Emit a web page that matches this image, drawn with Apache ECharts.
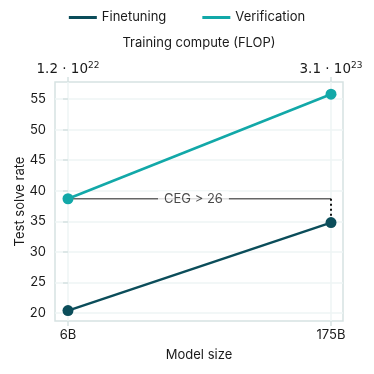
<!DOCTYPE html>
<html>
<head>
  <meta charset="UTF-8">
  <title></title>
  <script src="https://cdn.jsdelivr.net/npm/echarts@6/dist/echarts.min.js"></script>
  <style>
    html, body { margin: 0; padding: 0; background: #fff; }
    #c1 { width: 374px; height: 374px; }
  </style>
</head>
<body>
<div id="c1"></div>
<script>
  // data
  var modelSizes = ['6B', '175B'];
  var computeBase = ['1.2', '3.1'];
  var computeExp = ['22', '23'];
  var finetuning = [20.4, 34.8];
  var verification = [38.7, 55.8];
  var yTicks = [20, 25, 30, 35, 40, 45, 50, 55];
  var cegLabel = 'CEG > 26';

  var fineColor = '#0b4d5a';
  var verColor = '#12a8a8';
  var textColor = '#1a1a1a';

  var xIdx = [0, 1];
  var chartDom = document.getElementById('c1');
  var myChart = echarts.init(chartDom);
  var option;

  var xRange = { min: -0.0494, max: 1.0456 };

  option = {
    animation: false,
    textStyle: { fontFamily: 'Inter', color: textColor },
    legend: {
      top: 6,
      left: 'center',
      itemWidth: 28,
      itemHeight: 3,
      itemGap: 36,
      icon: 'rect',
      textStyle: { fontSize: 13, color: textColor, fontFamily: 'Inter' },
      data: ['Finetuning', 'Verification']
    },
    grid: {
      left: 55,
      right: 31,
      top: 82,
      bottom: 53,
      show: true,
      borderColor: '#d6e2e2',
      borderWidth: 1.5
    },
    xAxis: [
      {
        type: 'value',
        position: 'bottom',
        min: xRange.min,
        max: xRange.max,
        name: 'Model size',
        nameLocation: 'middle',
        nameGap: 28,
        nameTextStyle: { fontSize: 13, color: textColor },
        axisLine: { show: false },
        splitLine: { show: false },
        axisTick: { show: true, customValues: xIdx, length: 5, lineStyle: { color: '#d6e2e2', width: 1.5 } },
        axisLabel: {
          customValues: xIdx,
          margin: 8,
          fontSize: 13,
          color: textColor,
          formatter: function (v) { return modelSizes[Math.round(v)]; }
        }
      },
      {
        type: 'value',
        position: 'top',
        min: xRange.min,
        max: xRange.max,
        name: 'Training compute (FLOP)',
        nameLocation: 'middle',
        nameGap: 32,
        nameTextStyle: { fontSize: 13, color: textColor },
        axisLine: { show: false },
        splitLine: { show: false },
        axisTick: { show: true, customValues: xIdx, length: 5, lineStyle: { color: '#d6e2e2', width: 1.5 } },
        axisLabel: {
          customValues: xIdx,
          margin: 4,
          fontSize: 13,
          color: textColor,
          formatter: function (v) {
            var i = Math.round(v);
            return '{b|' + computeBase[i] + ' · 10}{e|' + computeExp[i] + '}';
          },
          rich: {
            b: { fontSize: 13.5, color: textColor, fontFamily: 'DejaVu Sans' },
            e: { fontSize: 9, color: textColor, fontFamily: 'DejaVu Sans', verticalAlign: 'top', padding: [0, 0, 8, 0] }
          }
        }
      }
    ],
    yAxis: {
      type: 'value',
      min: 18.7,
      max: 57.8,
      splitNumber: 8,
      maxInterval: 5,
      minInterval: 5,
      name: 'Test solve rate',
      nameLocation: 'middle',
      nameGap: 28,
      nameMoveOverlap: false,
      nameTextStyle: { fontSize: 13, color: textColor },
      axisLine: { show: false },
      axisTick: { show: true, customValues: yTicks, length: 5, lineStyle: { color: '#d6e2e2', width: 1.5 } },
      axisLabel: { customValues: yTicks, margin: 9, fontSize: 13, color: textColor },
      splitLine: { show: true, lineStyle: { color: '#eef4f4', width: 1.5 } }
    },
    series: [
      {
        // vertical grid lines at the two model sizes
        name: 'grid',
        type: 'line',
        data: [],
        z: 0,
        silent: true,
        markLine: {
          z: 0,
          silent: true,
          symbol: 'none',
          label: { show: false },
          lineStyle: { color: '#eef4f4', width: 1.5, type: 'solid' },
          data: xIdx.map(function (i) { return { xAxis: i }; })
        }
      },
      {
        name: 'ceg',
        type: 'line',
        z: 1,
        silent: true,
        symbol: 'none',
        lineStyle: { color: '#666', width: 1.5 },
        data: xIdx.map(function (i) { return [i, verification[0]]; })
      },
      {
        name: 'cegGap',
        type: 'line',
        z: 1,
        silent: true,
        symbol: 'none',
        lineStyle: { color: '#111', width: 2, type: [2, 3] },
        data: [[1, verification[0]], [1, finetuning[1]]]
      },
      {
        name: 'cegLabel',
        type: 'scatter',
        z: 3,
        silent: true,
        symbolSize: 0,
        data: [[0.477, verification[0]]],
        label: {
          show: true,
          position: 'inside',
          formatter: cegLabel,
          fontSize: 13,
          color: textColor,
          backgroundColor: '#fff',
          padding: [1, 6]
        }
      },
      {
        name: 'Finetuning',
        type: 'line',
        z: 4,
        symbol: 'circle',
        symbolSize: 11,
        color: fineColor,
        lineStyle: { width: 2.5, color: fineColor },
        data: xIdx.map(function (i) { return [i, finetuning[i]]; })
      },
      {
        name: 'Verification',
        type: 'line',
        z: 4,
        symbol: 'circle',
        symbolSize: 11,
        color: verColor,
        lineStyle: { width: 2.5, color: verColor },
        data: xIdx.map(function (i) { return [i, verification[i]]; })
      }
    ]
  };

  option && myChart.setOption(option);
</script>
</body>
</html>
